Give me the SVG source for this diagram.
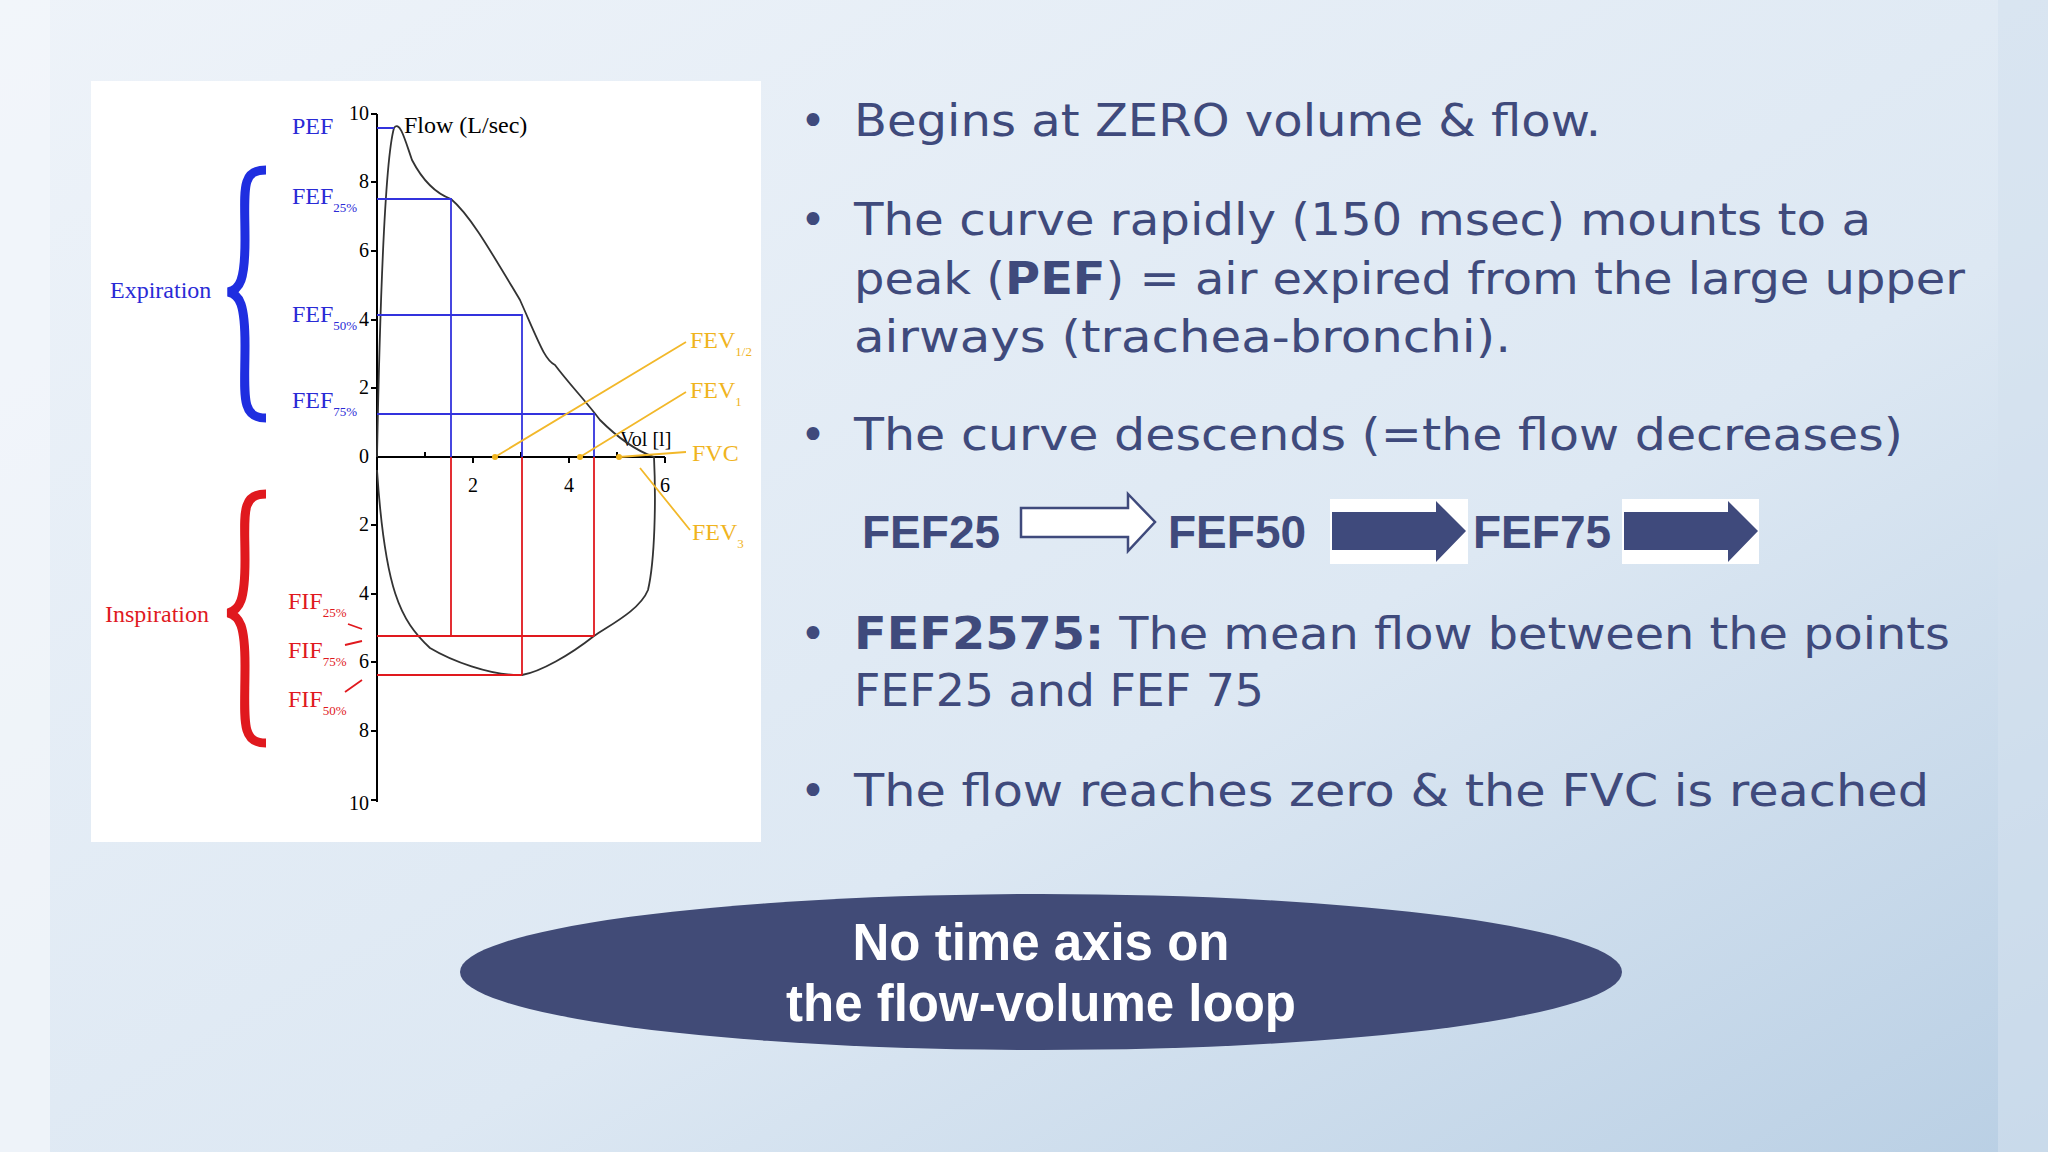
<svg xmlns="http://www.w3.org/2000/svg" width="2048" height="1152" viewBox="0 0 2048 1152">
<defs>
<linearGradient id="bg" x1="0" y1="0" x2="1" y2="1">
<stop offset="0" stop-color="#eef3f9"/><stop offset="0.6" stop-color="#dde8f3"/><stop offset="1" stop-color="#b9cfe4"/>
</linearGradient>
<style>
.t{font-family:"Liberation Serif",serif;}
.b{fill:#2a2ad6}.r{fill:#e0191e}.y{fill:#f0b41e}
.ax{stroke:#000;stroke-width:2;fill:none}
.bl{stroke:#3333dd;stroke-width:1.8;fill:none}
.rl{stroke:#e0191e;stroke-width:1.8;fill:none}
.yl{stroke:#f2b82a;stroke-width:1.8;fill:none}
.tx{font-family:"DejaVu Sans","Liberation Sans",sans-serif;font-size:44px;fill:#3f4a7c}
.fef{font-family:"Liberation Sans",sans-serif;font-weight:bold;font-size:46px;fill:#3f4a7c}
</style>
</defs>
<rect width="2048" height="1152" fill="url(#bg)"/>
<rect x="0" width="50" height="1152" fill="#f4f7fb" opacity="0.7"/>
<rect x="1998" width="50" height="1152" fill="#d3e1ee" opacity="0.6"/>
<g id="chart">
<rect x="91" y="81" width="670" height="761" fill="#fff"/>
<path class="ax" d="M377 114V802M377 457H665"/>
<g class="ax"><path d="M371 114h6M371 182h6M371 251h6M371 320h6M371 388h6M371 525h6M371 594h6M371 662h6M371 731h6M371 800h6M473 457v6M569 457v6M665 457v6M425 457v-5M521 457v-5M617 457v-5"/></g>
<g class="t" font-size="20" text-anchor="end">
<text x="369" y="120">10</text><text x="369" y="188">8</text><text x="369" y="257">6</text><text x="369" y="326">4</text><text x="369" y="394">2</text><text x="369" y="463">0</text><text x="369" y="531">2</text><text x="369" y="600">4</text><text x="369" y="668">6</text><text x="369" y="737">8</text><text x="369" y="810">10</text>
</g>
<g class="t" font-size="20" text-anchor="middle"><text x="473" y="492">2</text><text x="569" y="492">4</text><text x="665" y="492">6</text></g>
<text class="t" x="404" y="133" font-size="24">Flow (L/sec)</text>
<text class="t" x="620" y="446" font-size="20">Vol [l]</text>
<path d="M377 457C380 300 385 160 394 128C400 120 405 140 412 160C425 185 440 195 451 199C470 215 490 250 520 300C540 345 545 360 555 365C570 385 585 400 600 420C620 440 640 452 654 457C656 500 655 560 648 590C640 610 610 625 594 636C570 655 540 672 522 675C490 676 450 660 430 648C400 620 385 590 377 470" fill="none" stroke="#333" stroke-width="1.8"/>
<path class="bl" d="M377 128H394M377 199H451V457M377 315H522V457M377 414H594V457"/>
<path class="rl" d="M451 457V636M522 457V675M594 457V636M377 636H594M377 675H522"/>
<path class="yl" d="M495 457L686 342M580 457L686 392M619 457L686 452M640 468L690 530"/>
<g class="y"><circle cx="495" cy="457" r="3"/><circle cx="580" cy="457" r="3"/><circle cx="619" cy="457" r="3"/></g>
<g class="t" font-size="24">
<text class="b" x="292" y="134">PEF</text>
<text class="b" x="292" y="204">FEF<tspan font-size="13" dy="8">25%</tspan></text>
<text class="b" x="292" y="322">FEF<tspan font-size="13" dy="8">50%</tspan></text>
<text class="b" x="292" y="408">FEF<tspan font-size="13" dy="8">75%</tspan></text>
<text class="b" x="110" y="298">Expiration</text>
<text class="r" x="288" y="609">FIF<tspan font-size="13" dy="8">25%</tspan></text>
<text class="r" x="288" y="658">FIF<tspan font-size="13" dy="8">75%</tspan></text>
<text class="r" x="288" y="707">FIF<tspan font-size="13" dy="8">50%</tspan></text>
<text class="r" x="105" y="622">Inspiration</text>
<text class="y" x="690" y="348">FEV<tspan font-size="13" dy="8">1/2</tspan></text>
<text class="y" x="690" y="398">FEV<tspan font-size="13" dy="8">1</tspan></text>
<text class="y" x="692" y="461">FVC</text>
<text class="y" x="692" y="540">FEV<tspan font-size="13" dy="8">3</tspan></text>
</g>
<path d="M348 624l14 5M345 645l17-4M345 692l17-12" class="rl"/>
<path d="M266 170C240 170 245 190 245 240C245 280 240 290 228 292C240 294 245 305 245 345C245 395 240 418 266 418" fill="none" stroke="#1f2ee0" stroke-width="9"/>
<path d="M266 494C240 494 245 515 245 560C245 600 240 610 228 613C240 616 245 626 245 665C245 720 240 743 266 743" fill="none" stroke="#e0191e" stroke-width="9"/>
</g>
<g id="text">
<g class="tx" lengthAdjust="spacingAndGlyphs">
<text x="800" y="136">•</text><text x="854" y="136" textLength="747" lengthAdjust="spacingAndGlyphs">Begins at ZERO volume &amp; flow.</text>
<text x="800" y="235">•</text><text x="854" y="235" textLength="1017" lengthAdjust="spacingAndGlyphs">The curve rapidly (150 msec) mounts to a</text>
<text x="854" y="294" textLength="1111" lengthAdjust="spacingAndGlyphs">peak (<tspan font-weight="bold">PEF</tspan>) = air expired from the large upper</text>
<text x="854" y="352" textLength="657" lengthAdjust="spacingAndGlyphs">airways (trachea-bronchi).</text>
<text x="800" y="450">•</text><text x="854" y="450" textLength="1049" lengthAdjust="spacingAndGlyphs">The curve descends (=the flow decreases)</text>
<text x="800" y="649">•</text><text x="854" y="649" textLength="1096" lengthAdjust="spacingAndGlyphs"><tspan font-weight="bold">FEF2575:</tspan>  The mean flow between the points</text>
<text x="854" y="706" textLength="410" lengthAdjust="spacingAndGlyphs">FEF25 and FEF 75</text>
<text x="800" y="806">•</text><text x="854" y="806" textLength="1075" lengthAdjust="spacingAndGlyphs">The flow reaches zero &amp; the FVC is reached</text>
</g>
</g>
<g id="fefrow">
<text class="fef" x="862" y="548">FEF25</text>
<path d="M1021 508H1128V494L1155 522L1128 551V537H1021Z" fill="#fff" stroke="#3f4a7c" stroke-width="2.5"/>
<text class="fef" x="1168" y="548">FEF50</text>
<rect x="1330" y="499" width="138" height="65" fill="#fff"/>
<path d="M1332 512H1436V501L1466 531L1436 562V550H1332Z" fill="#3f4a7c"/>
<text class="fef" x="1473" y="548">FEF75</text>
<rect x="1622" y="499" width="137" height="65" fill="#fff"/>
<path d="M1624 512H1728V501L1758 531L1728 562V550H1624Z" fill="#3f4a7c"/>
</g>
<g id="oval">
<ellipse cx="1041" cy="972" rx="581" ry="78" fill="#414b77"/>
<g font-family="Liberation Sans,sans-serif" font-weight="bold" font-size="51" fill="#fff" text-anchor="middle">
<text x="1041" y="960">No time axis on</text><text x="1041" y="1021">the flow-volume loop</text>
</g>
</g>
</svg>
